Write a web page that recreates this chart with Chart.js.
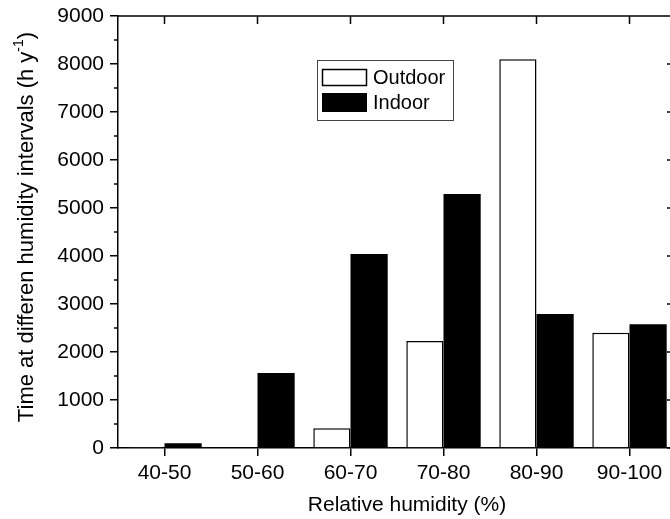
<!DOCTYPE html>
<html>
<head>
<meta charset="utf-8">
<script src="https://cdn.jsdelivr.net/npm/chart.js@4.4.0/dist/chart.umd.min.js"></script>
<style>
  html, body { margin: 0; padding: 0; background: #fff; overflow: hidden; }
  #wrap { width: 670px; height: 519px; overflow: hidden; }
  #chart { display: block; }
</style>
</head>
<body>
<div id="wrap"><canvas id="chart" width="678" height="519"></canvas></div>
<script>
// data
const categories = ['40-50', '50-60', '60-70', '70-80', '80-90', '90-100'];
const outdoor = [10, 20, 410, 2230, 8100, 2400];
const indoor = [100, 1560, 4040, 5290, 2790, 2580];
const yTicks = [0, 1000, 2000, 3000, 4000, 5000, 6000, 7000, 8000, 9000];

const FONT = 'Liberation Sans, Arial, sans-serif';

// frame, minor ticks, axis titles and legend box
const framePlugin = {
    id: 'frame',
    afterDraw(chart) {
        const ctx = chart.ctx;
        const a = chart.chartArea;
        const x = chart.scales.x;
        const y = chart.scales.y;
        ctx.save();
        ctx.strokeStyle = '#000';
        ctx.lineWidth = 1.5;
        ctx.beginPath();
        ctx.moveTo(a.left, a.top); ctx.lineTo(a.right, a.top);
        ctx.moveTo(a.right - 1, a.top); ctx.lineTo(a.right - 1, a.bottom);
        // top ticks at category centres
        categories.forEach((c, i) => {
            const px = x.getPixelForValue(i);
            ctx.moveTo(px, a.top); ctx.lineTo(px, a.top + 8);
        });
        // right ticks and left minor ticks
        for (let v = 0; v <= 9000; v += 500) {
            const py = y.getPixelForValue(v);
            if (v % 1000 === 0) {
                ctx.moveTo(a.right - 1, py); ctx.lineTo(a.right - 9, py);
            } else {
                ctx.moveTo(a.left, py); ctx.lineTo(a.left - 4, py);
                ctx.moveTo(a.right - 1, py); ctx.lineTo(a.right - 5, py);
            }
        }
        ctx.stroke();

        // x axis title
        ctx.fillStyle = '#000';
        ctx.font = '21px ' + FONT;
        ctx.textAlign = 'center';
        ctx.textBaseline = 'middle';
        ctx.fillText('Relative humidity (%)', 407, 505);

        // y axis title
        ctx.translate(27, 227);
        ctx.rotate(-Math.PI / 2);
        const main = 'Time at differen humidity intervals (h y';
        const sup = '-1';
        const end = ')';
        ctx.font = '22px ' + FONT;
        const w1 = ctx.measureText(main).width;
        const w3 = ctx.measureText(end).width;
        ctx.font = '14px ' + FONT;
        const w2 = ctx.measureText(sup).width;
        let sx = -(w1 + w2 + w3) / 2;
        ctx.textAlign = 'left';
        ctx.font = '22px ' + FONT;
        ctx.fillText(main, sx, 0);
        ctx.font = '14px ' + FONT;
        ctx.fillText(sup, sx + w1, -8);
        ctx.font = '22px ' + FONT;
        ctx.fillText(end, sx + w1 + w2, 0);
        ctx.restore();

        // legend
        ctx.save();
        ctx.strokeStyle = '#444';
        ctx.lineWidth = 1;
        ctx.strokeRect(317.5, 60.5, 136, 60);
        ctx.strokeStyle = '#000';
        ctx.lineWidth = 1.5;
        ctx.fillStyle = '#fff';
        ctx.fillRect(322, 69, 45, 17);
        ctx.strokeRect(322.5, 69.5, 44, 16);
        ctx.fillStyle = '#000';
        ctx.fillRect(322, 93, 45, 19);
        ctx.font = '20px ' + FONT;
        ctx.textBaseline = 'middle';
        ctx.fillText(chart.data.datasets[0].label, 373, 78);
        ctx.fillText(chart.data.datasets[1].label, 373, 103);
        ctx.restore();
    }
};

new Chart(document.getElementById('chart'), {
    type: 'bar',
    data: {
        labels: categories,
        datasets: [{
            label: 'Outdoor',
            data: outdoor,
            backgroundColor: '#fff',
            borderColor: '#000',
            borderWidth: 1.5,
            borderSkipped: 'bottom'
        }, {
            label: 'Indoor',
            data: indoor,
            backgroundColor: '#000',
            borderColor: '#000',
            borderWidth: 0
        }]
    },
    options: {
        responsive: false,
        animation: false,
        layout: { padding: { top: 16, right: 2, left: 0, bottom: 0 } },
        datasets: { bar: { categoryPercentage: 0.8, barPercentage: 1.0 } },
        plugins: { legend: { display: false }, tooltip: { enabled: false } },
        scales: {
            x: {
                offset: true,
                afterFit: s => { s.height = 71; },
                grid: { offset: false, drawOnChartArea: false, drawTicks: true, tickLength: 8, color: '#000', lineWidth: 1.5 },
                border: { color: '#000', width: 1.5 },
                ticks: { color: '#000', font: { family: FONT, size: 21 }, padding: 5, maxRotation: 0 }
            },
            y: {
                min: 0,
                max: 9000,
                afterFit: s => { s.width = 118; s.paddingTop = 0; s.paddingBottom = 0; },
                afterBuildTicks: s => { s.ticks = yTicks.map(v => ({ value: v })); },
                grid: { drawOnChartArea: false, drawTicks: true, tickLength: 8, color: '#000', lineWidth: 1.5 },
                border: { color: '#000', width: 1.5 },
                ticks: { color: '#000', font: { family: FONT, size: 21 }, padding: 6, callback: v => String(v) }
            }
        }
    },
    plugins: [framePlugin]
});
</script>
</body>
</html>
